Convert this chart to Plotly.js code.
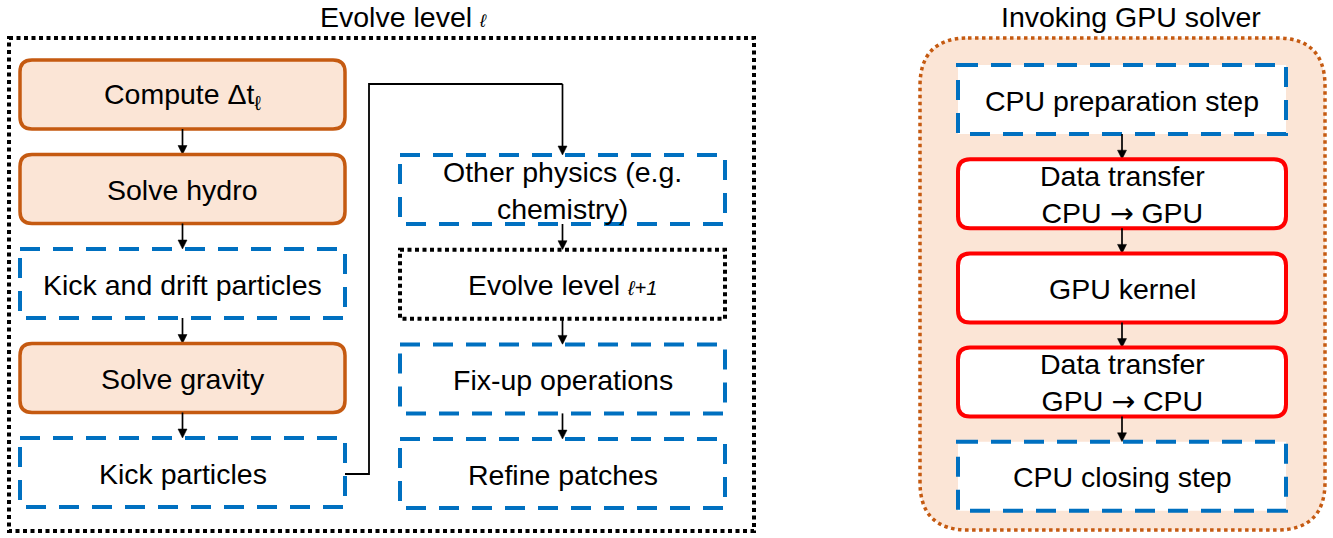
<!DOCTYPE html>
<html>
<head>
<meta charset="utf-8">
<script src="https://cdn.plot.ly/plotly-3.0.1.min.js"></script>
<style>html,body{margin:0;padding:0;background:#fff;}#chart{width:1333px;height:538px;}</style>
</head>
<body>
<div id="chart"></div>
<script>
// ---- content ----
const panelTitles = ["Evolve level <span style=\"font-size:18px\"><i>ℓ</i></span>", "Invoking GPU solver"];
const leftSteps = ["Compute Δt<sub>ℓ</sub>", "Solve hydro", "Kick and drift particles", "Solve gravity", "Kick particles"];
const leftKinds = ["core", "core", "aux", "core", "aux"];
const midSteps = ["Other physics (e.g.<br>chemistry)", "Evolve level <span style=\"font-size:20px\"><i>ℓ+1</i></span>", "Fix-up operations", "Refine patches"];
const midKinds = ["aux", "recurse", "aux", "aux"];
const ARROW = "<span style=\"font-family:'DejaVu Sans'\">→</span>";
const gpuSteps = ["CPU preparation step", "Data transfer<br>CPU " + ARROW + " GPU", "GPU kernel", "Data transfer<br>GPU " + ARROW + " CPU", "CPU closing step"];
const gpuKinds = ["aux", "gpu", "gpu", "gpu", "aux"];

// ---- styles ----
const FONT = "Arial, 'Liberation Sans', sans-serif";
const FS = 28.5;
const STYLE = {
  core:    {fill: "#FBE5D6", color: "#C55A11", width: 3.5, dash: "solid", r: 12},
  gpu:     {fill: "#FFFFFF", color: "#FF0000", width: 4,   dash: "solid", r: 12},
  aux:     {fill: "#FFFFFF", color: "#0070C0", width: 4,   dash: "20px,13px", r: 0},
  recurse: {fill: "#FFFFFF", color: "#000000", width: 4,   dash: "4px,3.5px", r: 0}
};

function roundRect(x0, y0, x1, y1, r) {
  if (r <= 0) return `M${x0},${y0} L${x1},${y0} L${x1},${y1} L${x0},${y1} Z`;
  return `M${x0 + r},${y0} L${x1 - r},${y0} Q${x1},${y0} ${x1},${y0 + r} ` +
         `L${x1},${y1 - r} Q${x1},${y1} ${x1 - r},${y1} L${x0 + r},${y1} ` +
         `Q${x0},${y1} ${x0},${y1 - r} L${x0},${y0 + r} Q${x0},${y0} ${x0 + r},${y0} Z`;
}

const shapes = [];
const annotations = [];

function arrowDown(cx, yStart, yTip) {
  shapes.push({type: "line", xref: "x", yref: "y", x0: cx, x1: cx, y0: yStart, y1: yTip - 6,
    line: {color: "#000", width: 1.7}, layer: "above"});
  shapes.push({type: "path", xref: "x", yref: "y",
    path: `M${cx - 4.5},${yTip - 9} L${cx + 4.5},${yTip - 9} L${cx},${yTip} Z`,
    line: {color: "#000", width: 0.5}, fillcolor: "#000", layer: "above"});
}

// outer frames
shapes.push({type: "path", xref: "x", yref: "y", path: roundRect(9, 38, 754, 531, 0),
  line: {color: "#000", width: 4, dash: "4px,3.5px"}, fillcolor: "rgba(0,0,0,0)", layer: "below"});
shapes.push({type: "path", xref: "x", yref: "y", path: roundRect(920, 38, 1325, 530, 48),
  line: {color: "#C55A11", width: 3.5, dash: "3.5px,3.5px"}, fillcolor: "#FBE5D6", layer: "below"});

annotations.push({x: 318, y: 17, xref: "x", yref: "y", xanchor: "left", text: panelTitles[0], showarrow: false,
  font: {family: FONT, size: FS, color: "#000"}});
annotations.push({x: 1131, y: 17, xref: "x", yref: "y", text: panelTitles[1], showarrow: false,
  font: {family: FONT, size: FS, color: "#000"}});

function column(labels, kinds, x0, x1, top0, step, h) {
  const cx = (x0 + x1) / 2;
  labels.forEach((lab, i) => {
    const st = STYLE[kinds[i]];
    const y0 = top0 + i * step, y1 = y0 + h;
    shapes.push({type: "path", xref: "x", yref: "y", path: roundRect(x0, y0, x1, y1, st.r),
      line: {color: st.color, width: st.width, dash: st.dash}, fillcolor: st.fill, layer: "above"});
    annotations.push({x: cx, y: (y0 + y1) / 2 + 1, xref: "x", yref: "y", text: lab, showarrow: false,
      font: {family: FONT, size: FS, color: "#000"}, align: "center"});
    if (i < labels.length - 1) arrowDown(cx, y1, top0 + (i + 1) * step);
  });
}

column(leftSteps, leftKinds, 20, 345, 60, 94.5, 69);
column(midSteps, midKinds, 400, 725, 155, 94.7, 69);
column(gpuSteps, gpuKinds, 958, 1286, 65, 94.2, 69);

// connector from "Kick particles" to "Other physics"
shapes.push({type: "path", xref: "x", yref: "y", path: "M345,474 L369,474 L369,84 L562.5,84",
  line: {color: "#000", width: 1.8}, layer: "above"});
arrowDown(562.5, 84, 155);

const layout = {
  width: 1333, height: 538, autosize: false,
  margin: {l: 0, r: 0, t: 0, b: 0, pad: 0},
  paper_bgcolor: "#fff", plot_bgcolor: "#fff",
  showlegend: false,
  xaxis: {range: [0, 1333], visible: false, fixedrange: true},
  yaxis: {range: [538, 0], visible: false, fixedrange: true},
  shapes: shapes, annotations: annotations
};

Plotly.newPlot("chart", [{type: "scatter", x: [], y: [], hoverinfo: "skip"}], layout,
  {staticPlot: true, displayModeBar: false});
</script>
</body>
</html>
